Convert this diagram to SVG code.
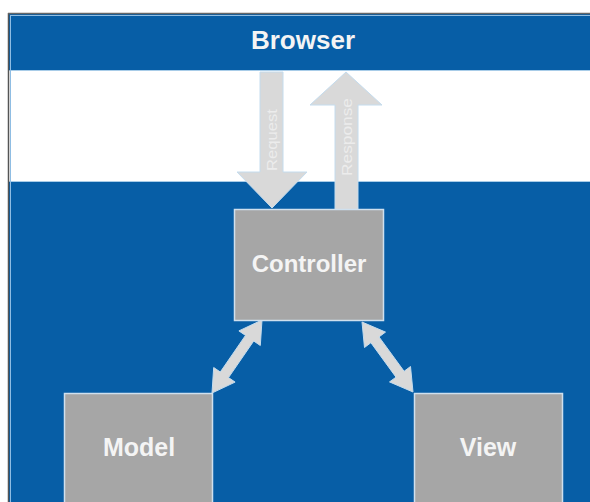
<svg xmlns="http://www.w3.org/2000/svg" width="590" height="502" viewBox="0 0 590 502">
<style>
.bg{fill:#075ea6}
.box{fill:#a6a6a6;stroke:#cfe0ee;stroke-width:1.5}
.lbl{font-family:"Liberation Sans",Arial,sans-serif;font-weight:bold;fill:#f4f4f4;text-anchor:middle}
.arrow{fill:#d9d9d9;stroke:#c4dcee;stroke-width:1}
.alb{font-family:"Liberation Sans",Arial,sans-serif;font-size:15px;fill:#ececec;text-anchor:middle}
</style>
<rect x="0" y="0" width="590" height="502" fill="#ffffff"/>
<rect class="bg" x="8" y="13" width="582" height="489"/>
<rect x="9" y="70" width="581" height="112" fill="#ffffff"/>
<line x1="9" y1="70.5" x2="590" y2="70.5" stroke="#a8cce8" stroke-width="1"/>
<line x1="9" y1="181.5" x2="590" y2="181.5" stroke="#a8cce8" stroke-width="1"/>
<line x1="8.5" y1="13" x2="8.5" y2="502" stroke="#555555" stroke-width="1.5"/>
<line x1="8" y1="13.5" x2="590" y2="13.5" stroke="#666666" stroke-width="1.5"/>
<line x1="10.5" y1="15" x2="10.5" y2="502" stroke="#8fbde3" stroke-width="1"/>
<line x1="10" y1="15.5" x2="590" y2="15.5" stroke="#8fbde3" stroke-width="1"/>

<g id="browser">
<text class="lbl" x="303" y="49" font-size="26">Browser</text>
</g>

<g id="connectors">
<g id="request">
<polygon class="arrow" points="260,72 283,72 283,172 307,172 272,208 237,172 260,172"/>
<text class="alb" transform="translate(276.5,140) rotate(-90)" textLength="62" lengthAdjust="spacingAndGlyphs">Request</text>
</g>
<g id="response">
<polygon class="arrow" points="335,210 358,210 358,105 382,105 346,72 310,105 335,105"/>
<text class="alb" transform="translate(352,137) rotate(-90)" textLength="78" lengthAdjust="spacingAndGlyphs">Response</text>
</g>
<polygon id="controller-model" class="arrow" points="212,393 235.1,382.1 228.5,377.6 253.7,341 260.3,345.5 262,320 238.9,330.9 245.5,335.4 220.3,372 213.7,367.5"/>
<polygon id="controller-view" class="arrow" points="362,322 364.5,347.5 370.9,342.7 396,377.2 389.5,381.9 413,392 410.5,366.5 404.1,371.3 379,336.9 385.5,332.1"/>
</g>

<g id="controller">
<rect class="box" x="234.5" y="209.5" width="149" height="111"/>
<text class="lbl" x="309" y="272" font-size="24">Controller</text>
</g>

<g id="model">
<rect class="box" x="64.5" y="393.5" width="148" height="110"/>
<text class="lbl" x="139" y="456" font-size="25">Model</text>
</g>

<g id="view">
<rect class="box" x="414.5" y="393.5" width="148" height="110"/>
<text class="lbl" x="488" y="456" font-size="25">View</text>
</g>
</svg>
